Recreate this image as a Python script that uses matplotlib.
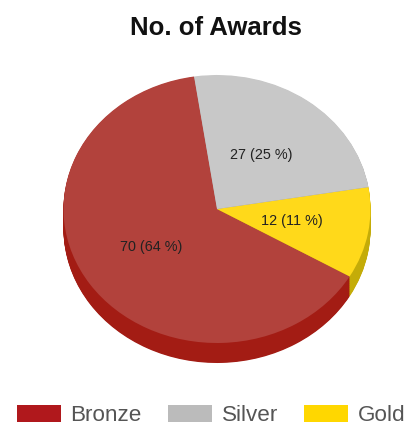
import matplotlib
matplotlib.use("Agg")
import matplotlib.pyplot as plt
from matplotlib.patches import Patch
import numpy as np

W, H = 411, 426
categories = ["Bronze", "Silver", "Gold"]
values = [70, 27, 12]
labels = ["70 (64 %)", "27 (25 %)", "12 (11 %)"]
top_colors = ["#B2423C", "#C8C8C8", "#FFD91A"]
side_colors = ["#A31C14", "#9A9A9A", "#C4AC08"]
legend_colors = ["#B0181C", "#BBBBBB", "#FFD700"]
title = "No. of Awards"

plt.rcParams["font.family"] = ["Liberation Sans", "DejaVu Sans"]
fig = plt.figure(figsize=(W / 100, H / 100), dpi=100)

# one data unit = the ellipse radii, so the pie reads as a tilted disc
cx, cy, rx, ry = 217, 209, 153.5, 134
depth = 20 / ry
ax = fig.add_axes([(cx - rx * 1.25) / W, 1 - (cy + ry * 1.25) / H,
                   2.5 * rx / W, 2.5 * ry / H])

kw = dict(startangle=98.6, counterclock=True)
order = [0, 2, 1]  # drawn anticlockwise: Bronze, Gold, Silver
vals = [values[i] for i in order]

for d in np.linspace(depth, 0.005, 30):
    ax.pie(vals, colors=[side_colors[i] for i in order], center=(0, -d),
           radius=1, wedgeprops=dict(linewidth=0), **kw)
ax.pie(vals, colors=[top_colors[i] for i in order], center=(0, 0),
       radius=1, wedgeprops=dict(linewidth=0), **kw)
ax.set_aspect("auto")
ax.set_xlim(-1.25, 1.25)
ax.set_ylim(-1.25, 1.25)

# data labels, in axes data units (radius = 1)
label_pos = [(-0.43, -0.284), (0.286, 0.403), (0.489, -0.09)]
for (x, y), text in zip(label_pos, labels):
    ax.text(x, y, text, ha="center", va="center", fontsize=10.4, color="#222222")

fig.text(216 / W, 1 - 28 / H, title, ha="center", va="center",
         fontsize=18.5, fontweight="bold", color="#111111")

handles = [Patch(facecolor=c, edgecolor="none") for c in legend_colors]
fig.legend(handles, categories, loc="center", bbox_to_anchor=(211 / W, 1 - 415.5 / H),
           ncol=3, frameon=False, fontsize=16.2, labelcolor="#555555",
           handlelength=1.95, handleheight=0.8, handletextpad=0.44,
           columnspacing=1.15, borderpad=0, borderaxespad=0)

fig.savefig("out.png", dpi=100)
